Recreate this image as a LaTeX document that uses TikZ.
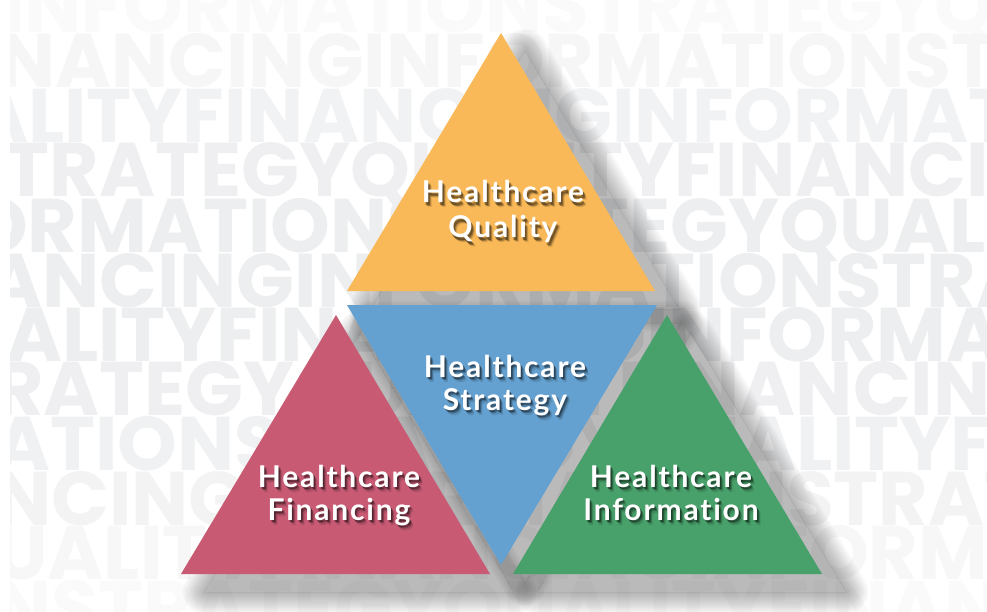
\documentclass[tikz,border=0pt]{standalone}
\usepackage{fontspec}
\setmainfont{Lato}
\newfontfamily\bgfont{Poppins}
\newfontfamily\lblfont{Lato}[LetterSpace=6,Ligatures=NoCommon]
\definecolor{qorange}{RGB}{250,185,88}
\definecolor{sblue}{RGB}{101,161,208}
\definecolor{fpink}{RGB}{200,90,116}
\definecolor{igreen}{RGB}{72,160,106}
\definecolor{bgtone}{RGB}{120,125,135}
\tikzset{
  bgrow/.style={anchor=base west, inner sep=0pt, font=\bgfont\bfseries\fontsize{76}{76}\selectfont},
  lbl/.style={anchor=base, inner sep=0pt, text=white, font=\lblfont\bfseries\fontsize{30}{33}\selectfont},
  lblshadow/.style={anchor=base, inner sep=0pt, text=black, font=\lblfont\bfseries\fontsize{30}{33}\selectfont},
}
% soft drop shadow: corners given in counterclockwise screen order
\newcommand\softshadow[3]{%
  \coordinate (s1) at ([shift={(24,18)}]#1);
  \coordinate (s2) at ([shift={(24,18)}]#2);
  \coordinate (s3) at ([shift={(24,18)}]#3);
  \fill[black, opacity=0.27] (s1) -- (s2) -- (s3) -- cycle;
  \begin{scope}
    \clip (-100,-100) -- (1100,-100) -- (1100,800) -- (-100,800) -- cycle
          (s1) -- (s2) -- (s3) -- cycle;
    \foreach \w in {44,40,36,32,28,24,20,16,12,8,4}{%
      \draw[black, opacity=0.028, line width=\w pt, line join=round] (s1) -- (s2) -- (s3) -- cycle;}
  \end{scope}}
\newcommand\trilabel[4]{% name, x, y, text
  \node[lblshadow, opacity=0.35] at ({#2+1.5},{#3+2.5}) {#4};
  \node[lblshadow, opacity=0.25] at ({#2+2.5},{#3+3.5}) {#4};
  \node[lblshadow, opacity=0.12] at ({#2+3.5},{#3+5}) {#4};
  \node[lbl] (#1) at (#2,#3) {#4};}
\begin{document}
\begin{tikzpicture}[x=1pt,y=-1pt]
\fill[white] (0,0) rectangle (987,612);
\useasboundingbox (0,0) rectangle (987,612);
% background words
\begin{scope}
\clip (10,0) rectangle (987,612);
\foreach \yy/\xx/\txt/\c in {
  33/2/INFORMATIONSTRATEGYQUALITY/4,
  88/-2/NANCINGINFORMATIONSTRATEGY/7,
  143/-28/ALITYFINANCINGINFORMATIONS/10,
  197/-42/STRATEGYQUALITYFINANCINGIN/12,
  252/-32/ORMATIONSTRATEGYQUALITYFIN/13,
  307/-14/ANCINGINFORMATIONSTRATEGYQ/13,
  361/6/ALITYFINANCINGINFORMATIONS/13,
  415/-6/RATEGYQUALITYFINANCINGINFO/12,
  470/-6/ATIONSTRATEGYQUALITYFINANC/11,
  525/-6/NCINGINFORMATIONSTRATEGYQU/9,
  579/-6/UALITYFINANCINGINFORMATION/6,
  634/-6/NSTRATEGYQUALITYFINANCINGI/4}{
  \node[bgrow, text=bgtone!\c] at (\xx,\yy) {\txt};
}
\end{scope}
% corner coordinates
\coordinate (qa) at (501,33);  \coordinate (qb) at (347,291); \coordinate (qc) at (655,291);
\coordinate (sa) at (347,305); \coordinate (sb) at (657,305); \coordinate (sc) at (501,565);
\coordinate (fa) at (336,315); \coordinate (fb) at (181,574); \coordinate (fc) at (490,574);
\coordinate (ia) at (667,315); \coordinate (ib) at (513,574); \coordinate (ic) at (822,574);
% shadows
\softshadow{qa}{qb}{qc}
\softshadow{sa}{sc}{sb}
\softshadow{fa}{fb}{fc}
\softshadow{ia}{ib}{ic}
% triangles
\fill[qorange] (qa) -- (qb) -- (qc) -- cycle;
\fill[sblue] (sa) -- (sb) -- (sc) -- cycle;
\fill[fpink] (fa) -- (fb) -- (fc) -- cycle;
\fill[igreen] (ia) -- (ib) -- (ic) -- cycle;
% labels
\trilabel{q1}{503}{203}{Healthcare}
\trilabel{q2}{503}{238}{Quality}
\trilabel{s1}{505}{377}{Healthcare}
\trilabel{s2}{505}{410}{Strategy}
\trilabel{f1}{339}{487}{Healthcare}
\trilabel{f2}{339}{520}{Financing}
\trilabel{i1}{671}{487}{Healthcare}
\trilabel{i2}{671}{520}{Information}
\end{tikzpicture}
\end{document}
